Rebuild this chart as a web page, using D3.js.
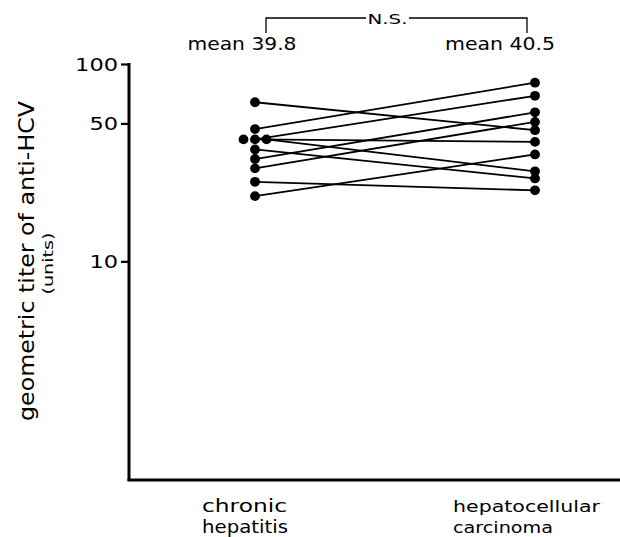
<!DOCTYPE html>
<html><head><meta charset="utf-8">
<script src="https://cdn.jsdelivr.net/npm/d3@7"></script>
<style>body{margin:0;background:#fff}svg{display:block}text{font-family:"DejaVu Sans",sans-serif;fill:#000}</style>
</head><body>
<svg id="c" width="620" height="537"></svg>
<script>
const categories = ["chronic hepatitis", "hepatocellular carcinoma"];
const categoryLines = [["chronic", "hepatitis"], ["hepatocellular", "carcinoma"]];
const chronicHepatitis = [64, 46.8, 41.5, 41.5, 41.5, 36.9, 33.0, 29.6, 25.3, 21.4];
const hepatocellularCarcinoma = [46.2, 80.4, 69.0, 40.3, 28.6, 26.3, 56.9, 50.9, 22.9, 34.8];
const means = ["mean 39.8", "mean 40.5"];
const yTicks = [10, 50, 100];
const yTitle = "geometric titer of anti-HCV";
const yUnits = "(units)";
const sigLabel = "N.S.";

const svg = d3.select("#c");
const y = d3.scaleLog().domain([0.78, 100]).range([480, 64]);
const x = d3.scalePoint().domain(categories).range([255, 535]);
const axisX = 129;

// axes
svg.append("line").attr("x1", axisX).attr("x2", axisX).attr("y1", y(100)-1).attr("y2", 481)
  .attr("stroke", "#000").attr("stroke-width", 3);
svg.append("line").attr("x1", axisX-1.5).attr("x2", 620).attr("y1", 480).attr("y2", 480)
  .attr("stroke", "#000").attr("stroke-width", 3);

const yAxis = d3.axisLeft(y).tickValues(yTicks).tickFormat(d3.format("d")).tickSize(8).tickPadding(3);
const ga = svg.append("g").attr("transform", `translate(${axisX},0)`).call(yAxis);
ga.select(".domain").remove();
ga.selectAll(".tick line").attr("stroke", "#000").attr("stroke-width", 2.2);
ga.selectAll(".tick text").attr("font-size", 18).attr("font-family", "DejaVu Sans")
  .attr("dy", "0.36em")
  .attr("textLength", d => String(d).length * 14.3).attr("lengthAdjust", "spacingAndGlyphs");

// y title
svg.append("text").attr("transform", "translate(34,261) rotate(-90)")
  .attr("text-anchor", "middle").attr("font-size", 21)
  .attr("textLength", 320).attr("lengthAdjust", "spacingAndGlyphs").text(yTitle);
svg.append("text").attr("transform", "translate(52.5,263.5) rotate(-90)")
  .attr("text-anchor", "middle").attr("font-size", 14)
  .attr("textLength", 62).attr("lengthAdjust", "spacingAndGlyphs").text(yUnits);

// dodge duplicates on left
const leftCounts = {};
chronicHepatitis.forEach(v => leftCounts[v] = (leftCounts[v] || 0) + 1);
const seen = {};
const pairs = chronicHepatitis.map((v, i) => {
  const n = leftCounts[v];
  const k = seen[v] = (seen[v] === undefined ? 0 : seen[v] + 1);
  return {a: v, b: hepatocellularCarcinoma[i], off: (k - (n - 1) / 2) * 11.5};
});

const x0 = x(categories[0]), x1 = x(categories[1]);
svg.append("g").selectAll("line").data(pairs).join("line")
  .attr("x1", d => x0 + Math.max(0, d.off)).attr("y1", d => y(d.a))
  .attr("x2", x1).attr("y2", d => y(d.b))
  .attr("stroke", "#000").attr("stroke-width", 1.8);
svg.append("g").selectAll("circle").data(pairs).join("circle")
  .attr("cx", d => x0 + d.off).attr("cy", d => y(d.a)).attr("r", 4.9).attr("fill", "#000");
svg.append("g").selectAll("circle").data(pairs).join("circle")
  .attr("cx", x1).attr("cy", d => y(d.b)).attr("r", 4.9).attr("fill", "#000");

// means
svg.append("text").attr("x", 242).attr("y", 50).attr("text-anchor", "middle").attr("font-size", 18)
  .attr("textLength", 109).attr("lengthAdjust", "spacingAndGlyphs").text(means[0]);
svg.append("text").attr("x", 500).attr("y", 50).attr("text-anchor", "middle").attr("font-size", 18)
  .attr("textLength", 110).attr("lengthAdjust", "spacingAndGlyphs").text(means[1]);

// significance bracket
svg.append("path").attr("d", "M266,33V18H366M409,18H527V33").attr("fill", "none")
  .attr("stroke", "#000").attr("stroke-width", 1.3);
svg.append("text").attr("x", 387.5).attr("y", 23.5).attr("text-anchor", "middle").attr("font-size", 14)
  .attr("textLength", 40).attr("lengthAdjust", "spacingAndGlyphs").text(sigLabel);

// category labels
const labX = [202, 453];
const labW = [[85, 86], [147, 100]];
categoryLines.forEach((lines, i) => {
  lines.forEach((t, j) => {
    svg.append("text").attr("x", labX[i]).attr("y", 512 + j * 21).attr("font-size", i === 0 ? 17 : 15)
      .attr("textLength", labW[i][j]).attr("lengthAdjust", "spacingAndGlyphs").text(t);
  });
});
</script>
</body></html>
